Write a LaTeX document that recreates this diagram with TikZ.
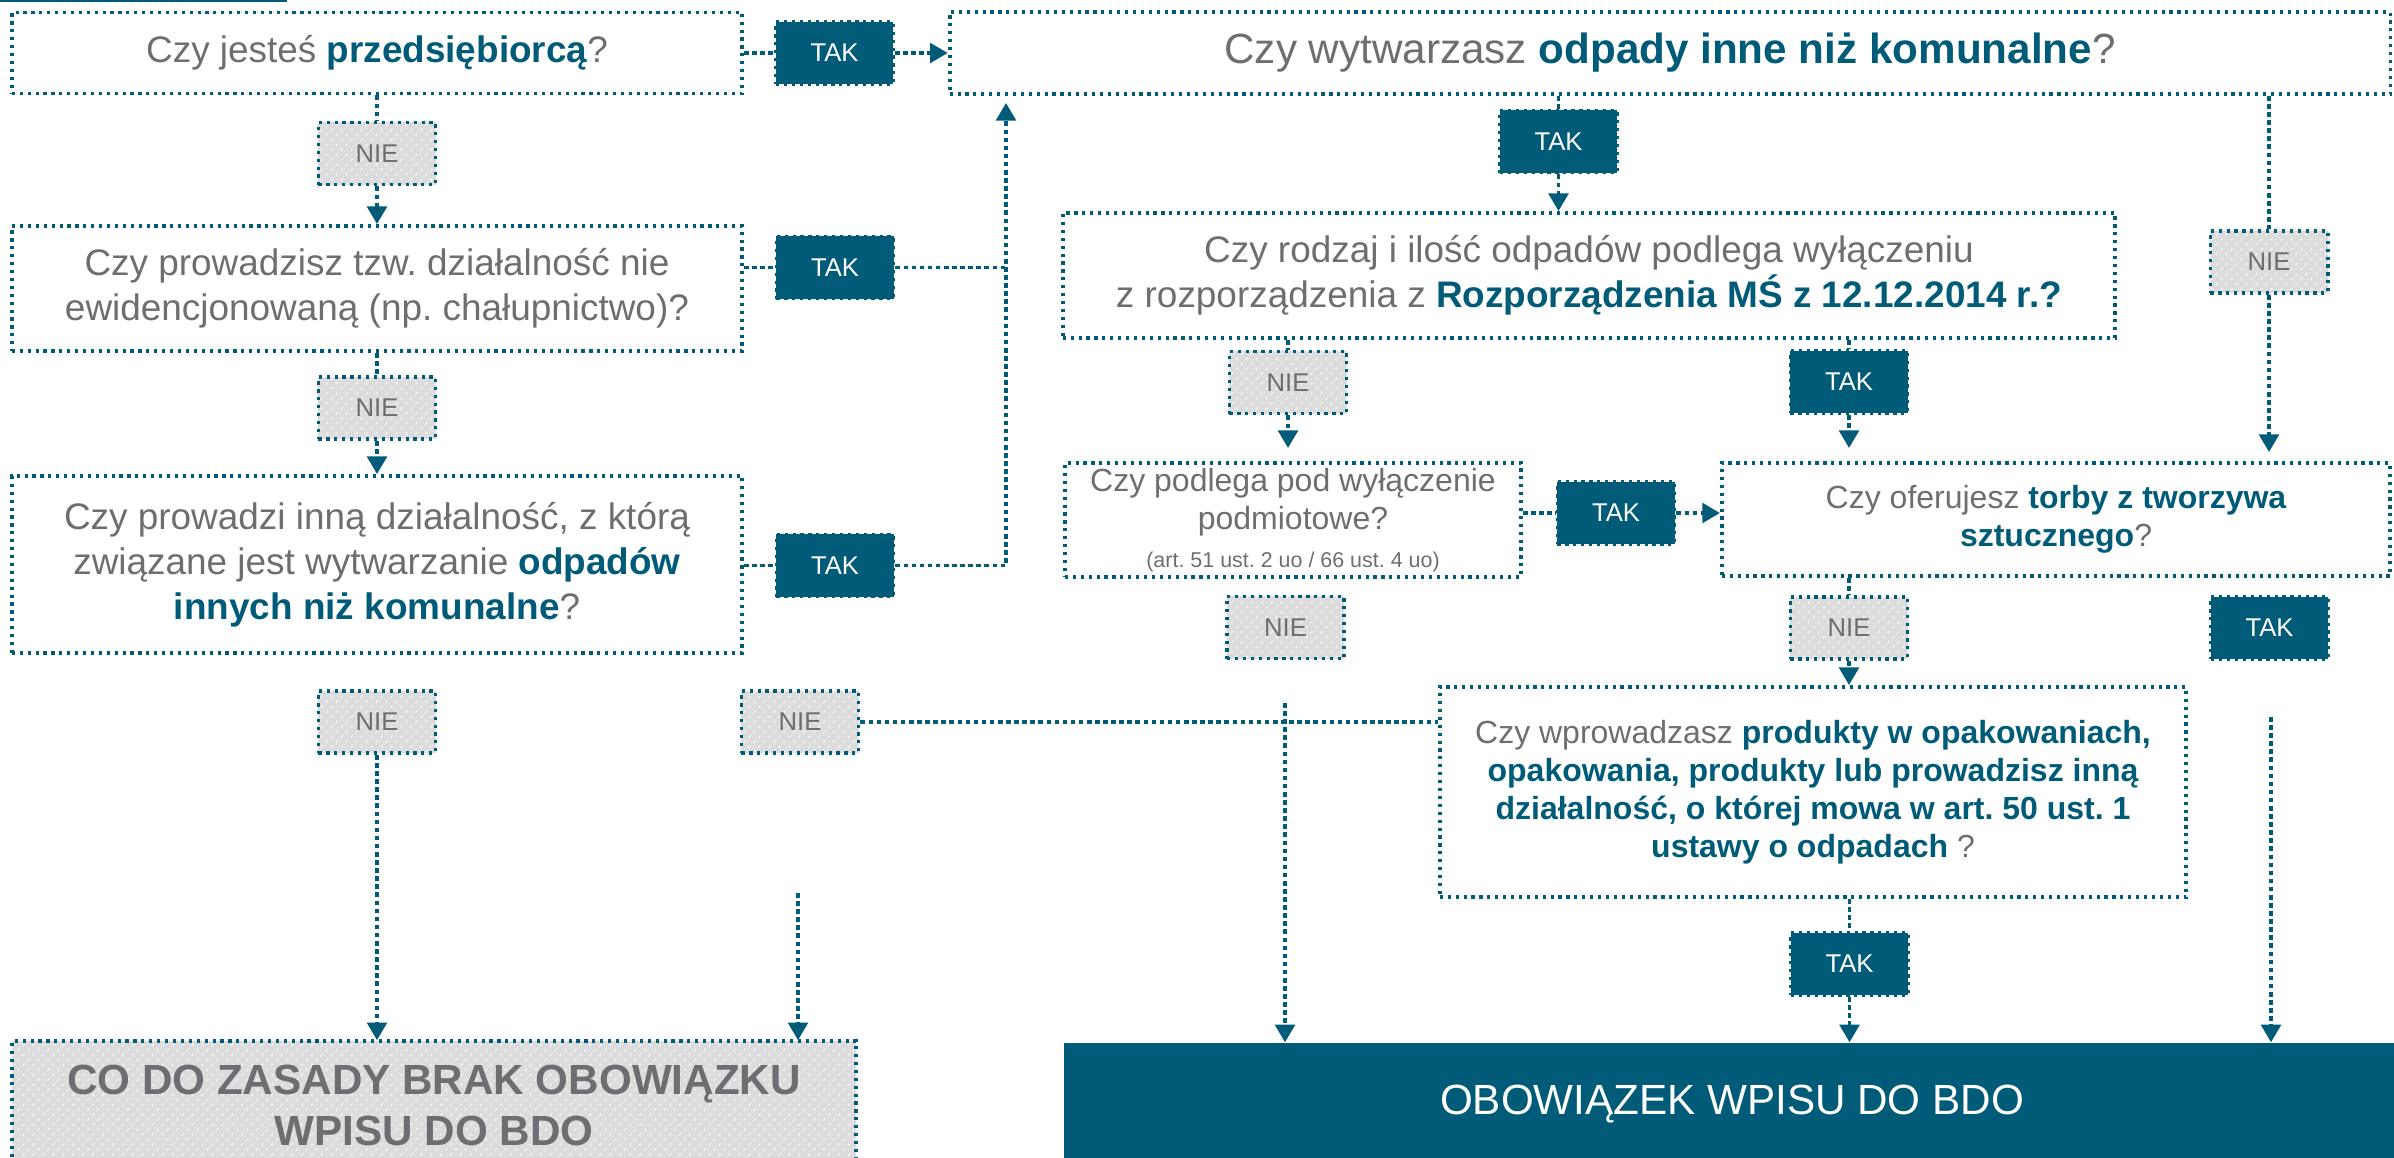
\documentclass[tikz,border=0pt]{standalone}
\usepackage{fontspec}
\setmainfont{Liberation Sans}
\usetikzlibrary{arrows.meta,patterns.meta}
\definecolor{bdoteal}{HTML}{005B78}
\definecolor{bdogray}{HTML}{6D6E71}
\definecolor{bdolight}{HTML}{DCDCDC}
\frenchspacing
\newcommand{\wyr}[1]{\textbf{\color{bdoteal}#1}}
\tikzset{
  pytanie/.style={draw=bdoteal, line width=1.1pt, dash pattern=on 0.9pt off 1.35pt, text=bdogray, align=center, inner sep=0pt},
  tak/.style={draw=bdoteal, fill=bdoteal, line width=1.1pt, dash pattern=on 0.9pt off 1.35pt, text=white, align=center, minimum width=1.17cm, minimum height=0.62cm, inner sep=0pt, font=\fontsize{7.3}{8}\selectfont},
  nie/.style={tak, text=bdogray, fill=none, preaction={fill=bdolight}, pattern={Lines[angle=45,distance=2pt,line width=0.45pt]}, pattern color=white!55!bdolight},
  polacz/.style={draw=bdoteal, line width=0.95pt, dash pattern=on 1.3pt off 1pt},
  strzal/.style={polacz, -{Triangle[width=5.6pt,length=5pt]}},
}
\begin{document}
\begin{tikzpicture}[x=0.01cm,y=-0.01cm]
       \useasboundingbox(0,0)rectangle(2394,1158);
       \draw[bdoteal,line width=0.6pt](0,1)--(287,1);
       \coordinate(PowrotGora)at(1006,103);
       \coordinate(TorbyWejscie)at(2269,452);
       \coordinate(PodlegaWejscie)at(1288,448);
       \coordinate(TorbyWejscieTak)at(1849,448);
       \coordinate(BrakZrodlo)at(798,893);
       \coordinate(ObowZrodloNie)at(1285,703);
       \coordinate(ObowZrodloTak)at(2271,717);
       \node[pytanie,minimum width=7.3cm,minimum height=0.81cm,font=\fontsize{10.5}{12.8}\selectfont](Przedsiebiorca)at(377,53){Czy jesteś \wyr{przedsiębiorcą}?};
       \node[pytanie,minimum width=7.3cm,minimum height=1.25cm,font=\fontsize{10.5}{12.8}\selectfont](Chalupnictwo)at(377,288.5){Czy prowadzisz tzw. działalność nie\\ewidencjonowaną (np. chałupnictwo)?};
       \node[pytanie,minimum width=7.3cm,minimum height=1.77cm,font=\fontsize{10.5}{12.8}\selectfont](InnaDzialalnosc)at(377,564.5){Czy prowadzi inną działalność, z którą\\związane jest wytwarzanie \wyr{odpadów}\\\wyr{innych niż komunalne}?};
       \node[pytanie,minimum width=14.4cm,minimum height=0.82cm,font=\fontsize{12}{14.4}\selectfont](Odpady)at(1670,53){Czy wytwarzasz \wyr{odpady inne niż komunalne}?};
       \node[pytanie,minimum width=10.52cm,minimum height=1.25cm,font=\fontsize{10.5}{12.8}\selectfont](Rodzaj)at(1589,275.5){Czy rodzaj i ilość odpadów podlega wyłączeniu\\z rozporządzenia z \wyr{Rozporządzenia MŚ z 12.12.2014 r.?}};
       \node[pytanie,minimum width=4.56cm,minimum height=1.14cm,font=\fontsize{9.1}{10.8}\selectfont](Podlega)at(1293,520){Czy podlega pod wyłączenie\\podmiotowe?\\{\fontsize{6.1}{8.5}\selectfont(art. 51 ust. 2 uo / 66 ust. 4 uo)}};
       \node[pytanie,minimum width=6.68cm,minimum height=1.13cm,font=\fontsize{9.1}{10.8}\selectfont](Torby)at(2056,519.5){Czy oferujesz \wyr{torby z tworzywa}\\\wyr{sztucznego}?};
       \node[pytanie,minimum width=7.46cm,minimum height=2.1cm,font=\fontsize{9.1}{10.8}\selectfont](Wprowadzasz)at(1813,792){Czy wprowadzasz \wyr{produkty w opakowaniach,}\\\wyr{opakowania, produkty lub prowadzisz inną}\\\wyr{działalność, o której mowa w art. 50 ust. 1}\\\wyr{ustawy o odpadach} ?};
       \node[nie,minimum width=8.44cm,minimum height=1.29cm,font=\bfseries\fontsize{12}{14.5}\selectfont](Brak)at(434,1105.5){CO DO ZASADY BRAK OBOWIĄZKU\\WPISU DO BDO};
       \node[fill=bdoteal,text=white,minimum width=13.36cm,minimum height=1.22cm,inner sep=0pt,font=\fontsize{12}{14.5}\selectfont](Obowiazek)at(1732,1104){OBOWIĄZEK WPISU DO BDO};
       \node[tak](TakFirma)at(834.5,53){TAK};
       \node[nie](NieFirma)at(377,153.5){NIE};
       \node[tak](TakChalupnictwo)at(835,267.5){TAK};
       \node[nie](NieChalupnictwo)at(377,408){NIE};
       \node[tak](TakInna)at(835,565.5){TAK};
       \node[nie](NieInna)at(377,722){NIE};
       \node[nie](NieWolny)at(800,722){NIE};
       \node[tak](TakOdpady)at(1558.5,141.5){TAK};
       \node[nie](NieOdpady)at(2269,262){NIE};
       \node[nie](NieRodzaj)at(1288,382.5){NIE};
       \node[tak](TakRodzaj)at(1849,382){TAK};
       \node[tak](TakPodlega)at(1616,513){TAK};
       \node[nie](NiePodlega)at(1285.5,627.5){NIE};
       \node[nie](NieTorby)at(1849,628){NIE};
       \node[tak](TakTorby)at(2269.5,628){TAK};
       \node[tak](TakWprowadzasz)at(1849.5,964){TAK};
       \draw[polacz](Przedsiebiorca.south-|NieFirma)--(NieFirma.north);
       \draw[strzal](NieFirma.south)--(NieFirma|-Chalupnictwo.north);
       \draw[polacz](Chalupnictwo.south-|NieChalupnictwo)--(NieChalupnictwo.north);
       \draw[strzal](NieChalupnictwo.south)--(NieChalupnictwo|-InnaDzialalnosc.north);
       \draw[strzal](NieInna.south)--(NieInna|-Brak.north);
       \draw[polacz](TakFirma.west-|Przedsiebiorca.east)--(TakFirma.west);
       \draw[strzal](TakFirma.east)--(TakFirma-|Odpady.west);
       \draw[polacz](TakChalupnictwo.west-|Chalupnictwo.east)--(TakChalupnictwo.west);
       \draw[polacz](TakChalupnictwo.east)--(TakChalupnictwo-|PowrotGora);
       \draw[polacz](TakInna.west-|InnaDzialalnosc.east)--(TakInna.west);
       \draw[strzal](TakInna.east)--(TakInna-|PowrotGora)--(PowrotGora);
       \draw[polacz](Odpady.south-|TakOdpady)--(TakOdpady.north);
       \draw[strzal](TakOdpady.south)--(TakOdpady|-Rodzaj.north);
       \draw[polacz](Odpady.south-|NieOdpady)--(NieOdpady.north);
       \draw[strzal](NieOdpady.south)--(TorbyWejscie);
       \draw[polacz](Rodzaj.south-|NieRodzaj)--(NieRodzaj.north);
       \draw[strzal](NieRodzaj.south)--(PodlegaWejscie);
       \draw[polacz](Rodzaj.south-|TakRodzaj)--(TakRodzaj.north);
       \draw[strzal](TakRodzaj.south)--(TorbyWejscieTak);
       \draw[polacz](TakPodlega.west-|Podlega.east)--(TakPodlega.west);
       \draw[strzal](TakPodlega.east)--(TakPodlega-|Torby.west);
       \draw[polacz](Torby.south-|NieTorby)--(NieTorby.north);
       \draw[strzal](NieTorby.south)--(NieTorby|-Wprowadzasz.north);
       \draw[polacz](NieWolny.east)--(NieWolny-|Wprowadzasz.west);
       \draw[strzal](BrakZrodlo)--(BrakZrodlo|-Brak.north);
       \draw[strzal](ObowZrodloNie)--(ObowZrodloNie|-Obowiazek.north);
       \draw[strzal](ObowZrodloTak)--(ObowZrodloTak|-Obowiazek.north);
       \draw[polacz](Wprowadzasz.south-|TakWprowadzasz)--(TakWprowadzasz.north);
       \draw[strzal](TakWprowadzasz.south)--(TakWprowadzasz|-Obowiazek.north);
\end{tikzpicture}
\end{document}
